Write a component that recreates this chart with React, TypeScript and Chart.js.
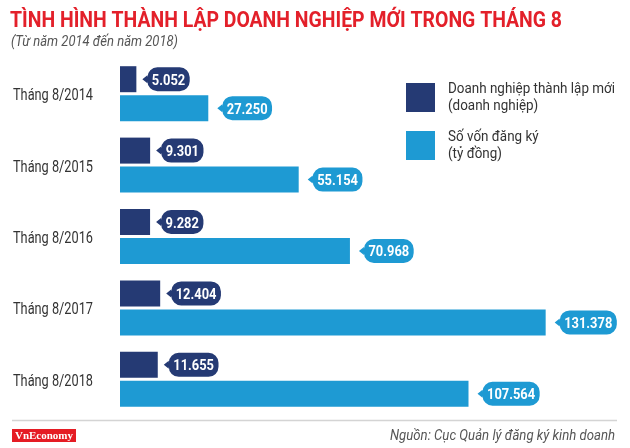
import { useEffect, useRef } from 'react';
import { Chart, registerables } from 'chart.js';

Chart.register(...registerables);

const title = 'TÌNH HÌNH THÀNH LẬP DOANH NGHIỆP MỚI TRONG THÁNG 8';
const subtitle = '(Từ năm 2014 đến năm 2018)';
const source = 'Nguồn: Cục Quản lý đăng ký kinh doanh';
const brand = 'VnEconomy';

const categories = ['Tháng 8/2014', 'Tháng 8/2015', 'Tháng 8/2016', 'Tháng 8/2017', 'Tháng 8/2018'];
// new businesses (thousand enterprises) and registered capital (thousand billion VND)
const newBusinesses = [5.052, 9.301, 9.282, 12.404, 11.655];
const registeredCapital = [27.25, 55.154, 70.968, 131.378, 107.564];

const seriesNames = ['Doanh nghiệp thành lập mới', 'Số vốn đăng ký'];
const seriesUnits = ['(doanh nghiệp)', '(tỷ đồng)'];

const NAVY = '#253a74';
const BLUE = '#1e9ad3';
const RED = '#e3202a';
const TEXT = '#333333';

function drawFitText(
  ctx: CanvasRenderingContext2D,
  text: string,
  x: number,
  y: number,
  font: string,
  color: string,
  width: number | null,
  scale = 1,
) {
  ctx.save();
  ctx.font = font;
  ctx.fillStyle = color;
  ctx.textAlign = 'left';
  ctx.textBaseline = 'alphabetic';
  const w = ctx.measureText(text).width;
  const sx = width ? width / w : scale;
  ctx.translate(x, y);
  ctx.scale(sx, 1);
  ctx.fillText(text, 0, 0);
  ctx.restore();
}

const decorPlugin = {
  id: 'decor',
  beforeDraw(chart: any) {
    const ctx = chart.ctx as CanvasRenderingContext2D;
    ctx.save();
    ctx.fillStyle = '#ffffff';
    ctx.fillRect(0, 0, chart.width, chart.height);
    ctx.restore();
  },
  afterDatasetsDraw(chart: any) {
    const ctx = chart.ctx as CanvasRenderingContext2D;
    const colors = [NAVY, BLUE];
    const gaps = [6, 9];
    chart.data.datasets.forEach((ds: any, di: number) => {
      const meta = chart.getDatasetMeta(di);
      meta.data.forEach((bar: any, i: number) => {
        const label = Number(ds.data[i]).toFixed(3);
        ctx.save();
        ctx.font = 'bold 15px Roboto';
        const sx = 0.86;
        const tw = ctx.measureText(label).width * sx;
        const tip = 5;
        const h = 24;
        const left = bar.x + gaps[di] + tip;
        const w = tw + 9;
        const top = bar.y - h / 2;
        const r = 10;
        ctx.fillStyle = colors[di];
        ctx.beginPath();
        ctx.moveTo(left + r, top);
        ctx.lineTo(left + w - r, top);
        ctx.arcTo(left + w, top, left + w, top + r, r);
        ctx.lineTo(left + w, top + h - r);
        ctx.arcTo(left + w, top + h, left + w - r, top + h, r);
        ctx.lineTo(left + r, top + h);
        ctx.arcTo(left, top + h, left, top + h - r, r);
        ctx.lineTo(left, bar.y + 4);
        ctx.lineTo(left - tip, bar.y);
        ctx.lineTo(left, bar.y - 4);
        ctx.lineTo(left, top + r);
        ctx.arcTo(left, top, left + r, top, r);
        ctx.closePath();
        ctx.fill();
        ctx.restore();
        drawFitText(ctx, label, left + (w - tw) / 2, bar.y + 5.5, 'bold 15px Roboto', '#ffffff', null, sx);
      });
    });
  },
  afterDraw(chart: any) {
    const ctx = chart.ctx as CanvasRenderingContext2D;
    // title + subtitle
    drawFitText(ctx, title, 10, 27, 'bold 22px Roboto', RED, 552);
    drawFitText(ctx, subtitle, 11, 46, 'italic 14px Roboto', '#555555', 167);

    // category labels
    const yScale = chart.scales.y;
    categories.forEach((c, i) => {
      const y = yScale.getPixelForValue(i);
      drawFitText(ctx, c, 13, y + 6.5, '16px Roboto', TEXT, 80);
    });

    // legend
    const colors = [NAVY, BLUE];
    const tops = [83, 131];
    seriesNames.forEach((name, i) => {
      ctx.save();
      ctx.fillStyle = colors[i];
      ctx.fillRect(406, tops[i], 29, 29);
      ctx.restore();
      ctx.save();
      ctx.font = '15px Roboto';
      const w1 = ctx.measureText(seriesNames[0]).width;
      ctx.restore();
      const sx = 167 / w1;
      drawFitText(ctx, name, 448, tops[i] + 10, '15px Roboto', TEXT, null, sx);
      drawFitText(ctx, seriesUnits[i], 448, tops[i] + 26.5, '15px Roboto', TEXT, null, sx);
    });

    // footer
    ctx.save();
    ctx.strokeStyle = '#d4d4d4';
    ctx.lineWidth = 1.5;
    ctx.beginPath();
    ctx.moveTo(12, 420.5);
    ctx.lineTo(617, 420.5);
    ctx.stroke();
    ctx.fillStyle = '#e51c24';
    ctx.fillRect(12, 429, 64, 13);
    ctx.fillStyle = '#ffffff';
    ctx.font = 'bold 11px "Liberation Serif"';
    ctx.textAlign = 'center';
    ctx.textBaseline = 'middle';
    ctx.fillText(brand, 44, 436);
    ctx.restore();
    drawFitText(ctx, source, 390, 440, 'italic 15px Roboto', '#555555', 225);
  },
};

export default function App() {
  const ref = useRef<HTMLCanvasElement | null>(null);
  useEffect(() => {
    if (!ref.current) return;
    const chart = new Chart(ref.current, {
      type: 'bar',
      data: {
        labels: categories,
        datasets: [
          {
            label: seriesNames[0],
            data: newBusinesses,
            backgroundColor: NAVY,
            categoryPercentage: 0.812,
            barPercentage: 0.897,
          },
          {
            label: seriesNames[1],
            data: registeredCapital,
            backgroundColor: BLUE,
            categoryPercentage: 0.812,
            barPercentage: 0.897,
          },
        ],
      },
      options: {
        indexAxis: 'y',
        animation: false,
        responsive: false,
        maintainAspectRatio: false,
        devicePixelRatio: 1,
        layout: { padding: { left: 120, right: 24, top: 58, bottom: 33 } },
        scales: {
          x: { display: false, min: 0, max: 150 },
          y: { display: false },
        },
        plugins: {
          legend: { display: false },
          tooltip: { enabled: false },
        },
      },
      plugins: [decorPlugin],
    } as any);
    return () => chart.destroy();
  }, []);
  return (
    <div style={{ position: 'absolute', left: 0, top: 0, width: 630, height: 448, background: '#fff' }}>
      <canvas ref={ref} width={630} height={448} style={{ width: 630, height: 448, display: 'block' }} />
    </div>
  );
}
